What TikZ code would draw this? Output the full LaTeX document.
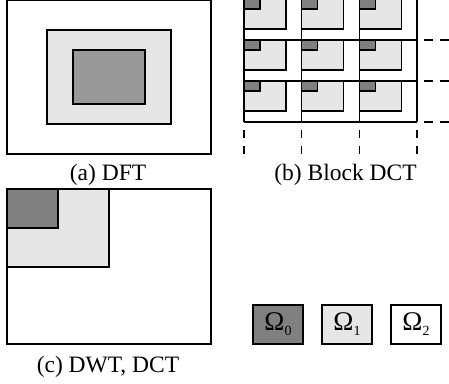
\documentclass[tikz,border=0pt]{standalone}
\usepackage{fontspec}
\setmainfont{Liberation Serif}
\definecolor{darkA}{HTML}{999999}
\definecolor{darkB}{HTML}{808080}
\definecolor{lightg}{HTML}{E6E6E6}
\begin{document}
\begin{tikzpicture}[x=1pt,y=-1pt,line width=1.4pt,
  box/.style={draw=black},
  lbl/.style={font=\fontsize{23.5}{26}\selectfont,anchor=base,inner sep=0pt},
  dsh/.style={line width=1.2pt,dash pattern=on 9pt off 7pt},
  omg/.style={draw=black,minimum width=50pt,minimum height=39pt,inner sep=0pt,font=\fontsize{27}{30}\selectfont}]
\useasboundingbox (0,0) rectangle (449,383);
% (a) DFT
\draw[box,fill=white] (7,0.7) rectangle (211,154);
\draw[box,fill=lightg] (47,30) rectangle (171,124);
\draw[box,fill=darkA] (73,50) rectangle (145,104);
\node[lbl] (la) at (108,180) {(a) DFT};
% (b) Block DCT
\foreach \i/\x in {0/244,1/301.7,2/359.3}{
  \foreach \j/\y in {0/-1,1/40,2/81}{
    \draw[box,fill=lightg] (\x,\y) rectangle ++(42,30);
    \draw[box,fill=darkB] (\x,\y) rectangle ++(16,10);
  }
}
\foreach \x in {244,301.7,359.3,417}{\draw (\x,-2) -- (\x,122);}
\foreach \y in {40,81,122}{\draw (244,\y) -- (417,\y);}
\foreach \y in {-0.5,40,81,122}{\draw[dsh] (424,\y) -- (455,\y);}
\foreach \x in {244,301.7,359.3,417}{\draw[dsh,dash pattern=on 8pt off 8pt] (\x,130) -- (\x,155);}
\node[lbl] (lb) at (345.5,180) {(b) Block DCT};
% (c) DWT, DCT
\draw[box,fill=white] (7,189) rectangle (211,344);
\draw[box,fill=lightg] (7,189) rectangle (109,267);
\draw[box,fill=darkB] (7,189) rectangle (58,228);
\node[lbl] (lc) at (108,372) {(c) DWT, DCT};
% legend
\node[omg,fill=darkB] (o0) at (278,324.5) {Ω\raisebox{-5pt}{\fontsize{14}{14}\selectfont 0}};
\node[omg,fill=lightg] (o1) at (347,324.5) {Ω\raisebox{-5pt}{\fontsize{14}{14}\selectfont 1}};
\node[omg,fill=white] (o2) at (416,324.5) {Ω\raisebox{-5pt}{\fontsize{14}{14}\selectfont 2}};
\end{tikzpicture}
\end{document}
